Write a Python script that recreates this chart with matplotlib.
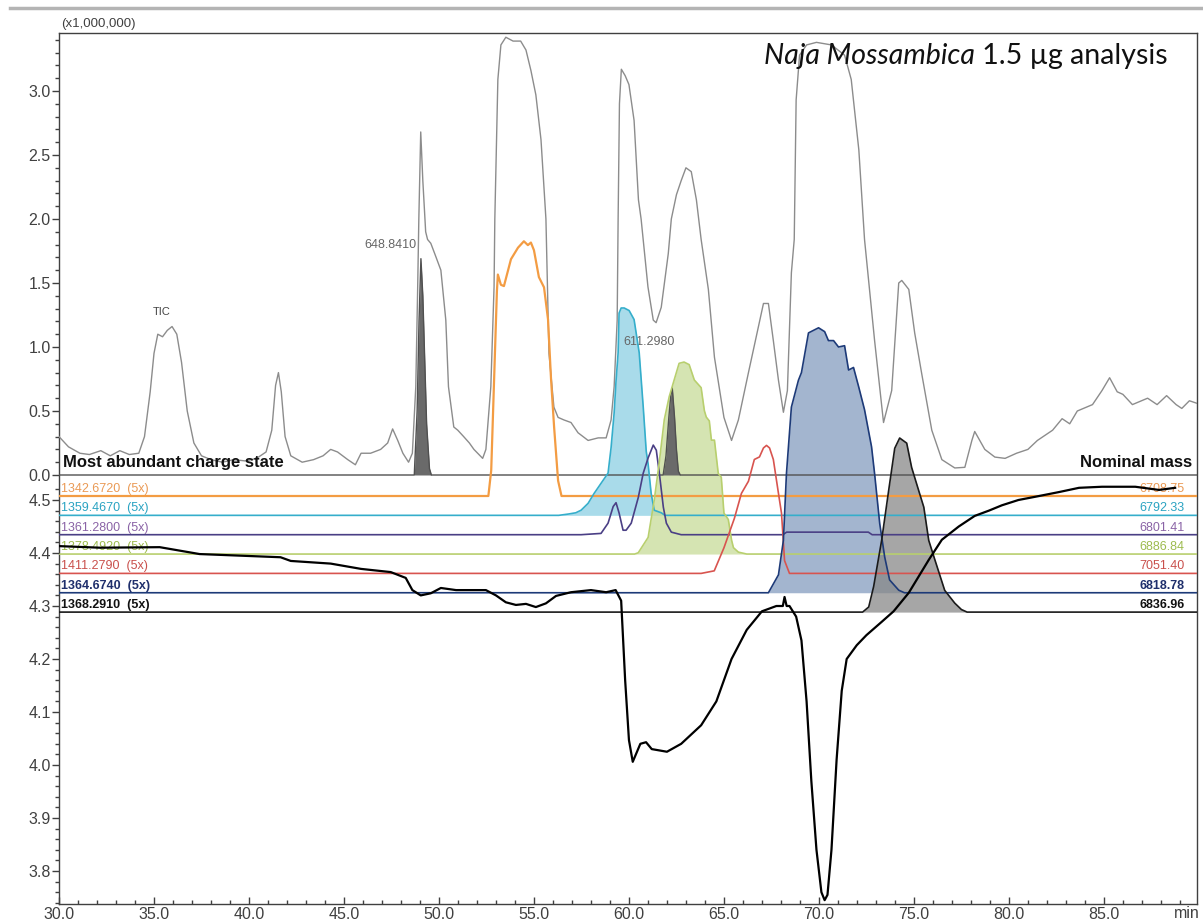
import numpy as np
import matplotlib
matplotlib.use('Agg')
import matplotlib.pyplot as plt
from matplotlib.lines import Line2D

plt.rcParams['font.family'] = ['Liberation Sans', 'DejaVu Sans']

# ---------------- data ----------------
tic_t = [30.0, 30.5, 31.1, 31.6, 32.2, 32.7, 33.2, 33.7, 34.2, 34.5, 34.8, 35.0, 35.2, 35.45, 35.7,
         35.95, 36.2, 36.45, 36.75, 37.1, 37.5, 38.0, 38.6, 39.2, 39.8, 40.4, 40.9, 41.2, 41.4,
         41.55, 41.7, 41.9, 42.2, 42.8, 43.4, 43.9, 44.3, 44.66, 45.2, 45.6, 45.9, 46.4, 46.93,
         47.3, 47.56, 47.83, 48.1, 48.4, 48.6, 48.78, 48.88, 48.94, 49.04, 49.15, 49.3, 49.4,
         49.57, 49.8, 50.1, 50.36, 50.5, 50.78, 50.99, 51.3, 51.6, 51.84, 52.3, 52.47, 52.73,
         52.9, 52.94, 53.1, 53.26, 53.52, 53.9, 54.3, 54.58, 54.84, 55.1, 55.37, 55.63, 55.79,
         56.05, 56.27, 56.58, 56.95, 57.32, 57.85, 58.38, 58.8, 59.06, 59.22, 59.38, 59.43,
         59.5, 59.6, 59.8, 60.0, 60.27, 60.5, 60.64, 61.0, 61.28, 61.43, 61.7, 62.07, 62.23,
         62.5, 62.75, 63.0, 63.28, 63.55, 63.8, 64.18, 64.5, 65.0, 65.4, 65.76, 66.29, 66.8,
         67.08, 67.34, 67.6, 67.87, 68.13, 68.34, 68.55, 68.7, 68.8, 68.98, 69.35, 69.87, 70.66,
         71.35, 71.7, 72.1, 72.4, 72.93, 73.4, 73.83, 74.2, 74.36, 74.73, 75.04, 75.4, 75.94,
         76.47, 77.15, 77.68, 78.05, 78.2, 78.73, 79.26, 79.8, 80.4, 81.0, 81.5, 82.3, 82.8,
         83.2, 83.6, 84.4, 84.9, 85.3, 85.7, 86.0, 86.5, 87.3, 87.8, 88.3, 88.8, 89.1, 89.5, 89.9]
tic_v = [0.30, 0.22, 0.17, 0.16, 0.19, 0.15, 0.19, 0.16, 0.17, 0.30, 0.65, 0.95, 1.10, 1.08, 1.13,
         1.16, 1.10, 0.88, 0.50, 0.25, 0.15, 0.12, 0.10, 0.12, 0.11, 0.13, 0.18, 0.35, 0.70,
         0.80, 0.65, 0.30, 0.15, 0.10, 0.12, 0.15, 0.20, 0.18, 0.12, 0.08, 0.17, 0.17, 0.20,
         0.25, 0.36, 0.27, 0.17, 0.10, 0.17, 0.69, 1.47, 2.00, 2.68, 2.30, 1.90, 1.84,
         1.81, 1.72, 1.60, 1.21, 0.69, 0.375, 0.35, 0.30, 0.25, 0.20, 0.13, 0.20, 0.69,
         1.47, 2.00, 3.09, 3.36, 3.42, 3.39, 3.39, 3.32, 3.16, 2.97, 2.62, 2.00, 0.95,
         0.53, 0.45, 0.43, 0.41, 0.33, 0.27, 0.29, 0.29, 0.43, 0.69, 1.21, 2.00,
         2.90, 3.17, 3.12, 3.05, 2.77, 2.15, 2.00, 1.47, 1.21, 1.19, 1.31, 1.73, 2.00,
         2.19, 2.30, 2.40, 2.37, 2.15, 1.84, 1.45, 0.92, 0.45, 0.27, 0.43, 0.80, 1.15,
         1.34, 1.34, 1.05, 0.74, 0.49, 0.66, 1.58, 1.84, 2.93, 3.28, 3.36, 3.38, 3.36,
         3.28, 3.09, 2.54, 1.84, 1.05, 0.41, 0.66, 1.50, 1.52, 1.45, 1.11, 0.80, 0.35,
         0.12, 0.055, 0.06, 0.27, 0.34, 0.20, 0.14, 0.13, 0.17, 0.20, 0.27, 0.35, 0.44,
         0.40, 0.50, 0.55, 0.66, 0.76, 0.65, 0.63, 0.55, 0.60, 0.55, 0.62, 0.55, 0.52, 0.58, 0.56]

# XIC peaks drawn on the TIC baseline (dark grey)
xic648_t = [48.7, 48.85, 48.95, 49.05, 49.15, 49.25, 49.35, 49.5, 49.6]
xic648_h = [0.0, 0.5, 1.2, 1.69, 1.4, 0.9, 0.4, 0.05, 0.0]
xic611_t = [61.8, 61.95, 62.1, 62.2, 62.28, 62.4, 62.5, 62.6, 62.7]
xic611_h = [0.0, 0.15, 0.45, 0.62, 0.68, 0.45, 0.2, 0.03, 0.0]

# stacked charge-state traces (5x)
charge_states = ['1342.6720', '1359.4670', '1361.2800', '1378.4920', '1411.2790', '1364.6740', '1368.2910']
nominal_mass = ['6708.75', '6792.33', '6801.41', '6886.84', '7051.40', '6818.78', '6836.96']

orange_t = [52.6, 52.75, 52.9, 53.05, 53.1, 53.26, 53.42, 53.79, 54.16, 54.47, 54.68, 54.84, 55.0,
            55.26, 55.53, 55.74, 55.9, 56.06, 56.27, 56.45]
orange_h = [0.0, 0.2, 0.9, 1.6, 1.73, 1.65, 1.64, 1.85, 1.94, 1.99, 1.96, 1.98, 1.92,
            1.71, 1.63, 1.38, 0.91, 0.54, 0.12, 0.0]
cyan_t = [56.3, 56.8, 57.2, 57.48, 57.85, 58.16, 58.53, 58.9, 59.06, 59.22, 59.32, 59.43, 59.48,
          59.59, 59.75, 60.01, 60.27, 60.54, 60.75, 60.91, 61.01, 61.17, 61.33, 61.7, 61.9]
cyan_h = [0.0, 0.01, 0.02, 0.04, 0.094, 0.17, 0.25, 0.33, 0.53, 0.8, 1.05, 1.27, 1.58,
          1.62, 1.62, 1.6, 1.53, 1.27, 0.85, 0.5, 0.4, 0.17, 0.04, 0.02, 0.0]
purple_t = [57.48, 58.53, 58.9, 59.17, 59.32, 59.48, 59.69, 59.85, 60.12, 60.49, 60.75, 61.01,
            61.28, 61.44, 61.6, 61.81, 61.97, 62.23, 62.75, 68.1, 68.3, 72.6, 72.8]
purple_h = [0.0, 0.01, 0.09, 0.22, 0.25, 0.17, 0.035, 0.035, 0.09, 0.29, 0.48, 0.6,
            0.7, 0.66, 0.48, 0.215, 0.09, 0.02, 0.0, 0.0, 0.02, 0.02, 0.0]
green_t = [60.3, 60.49, 61.01, 61.33, 61.59, 61.86, 62.12, 62.38, 62.64, 62.9, 63.17, 63.44, 63.8,
           63.97, 64.07, 64.23, 64.34, 64.5, 64.7, 64.86, 65.0, 65.23, 65.4, 65.5, 65.76, 66.2]
green_h = [0.0, 0.01, 0.13, 0.42, 0.71, 1.05, 1.23, 1.36, 1.49, 1.5, 1.48, 1.36, 1.3,
           1.12, 1.07, 1.04, 0.89, 0.89, 0.63, 0.6, 0.32, 0.27, 0.11, 0.05, 0.015, 0.0]
red_t = [63.8, 64.49, 65.0, 65.55, 65.92, 66.29, 66.6, 66.87, 67.08, 67.24, 67.4, 67.6, 67.87,
         68.03, 68.19, 68.45]
red_h = [0.0, 0.02, 0.2, 0.43, 0.625, 0.72, 0.89, 0.91, 0.98, 1.0, 0.98, 0.89, 0.625,
         0.47, 0.1, 0.0]
navy_t = [67.34, 67.87, 68.13, 68.29, 68.55, 68.92, 69.08, 69.45, 69.98, 70.3, 70.5, 70.77, 71.03,
          71.35, 71.56, 71.82, 72.09, 72.4, 72.77, 72.93, 73.2, 73.46, 73.72, 74.2, 74.5]
navy_h = [0.0, 0.14, 0.41, 0.93, 1.45, 1.66, 1.72, 2.03, 2.07, 2.04, 1.97, 1.97, 1.92,
          1.93, 1.74, 1.76, 1.61, 1.43, 1.14, 0.93, 0.54, 0.28, 0.1, 0.02, 0.0]
grey_t = [72.3, 72.62, 72.88, 73.3, 73.67, 73.99, 74.25, 74.62, 74.88, 75.25, 75.52, 75.78, 76.1,
          76.62, 77.15, 77.5, 77.8]
grey_h = [0.0, 0.04, 0.2, 0.56, 0.95, 1.28, 1.36, 1.32, 1.13, 0.95, 0.82, 0.56, 0.41,
          0.17, 0.07, 0.02, 0.0]

# pressure-like trace on the lower scale
pr_t = [30.0, 32.16, 35.3, 37.4, 41.66, 42.2, 44.3, 45.9, 47.46, 48.25, 48.6, 49.04, 49.57, 50.1,
        50.9, 51.7, 52.47, 53.0, 53.52, 54.05, 54.58, 55.1, 55.63, 56.16, 56.95, 58.0, 58.8,
        59.3, 59.59, 59.8, 60.0, 60.2, 60.6, 60.9, 61.2, 62.0, 62.75, 63.8, 64.6, 65.4, 66.2,
        67.0, 67.76, 68.1, 68.19, 68.3, 68.45, 68.8, 69.08, 69.35, 69.6, 69.87, 70.13, 70.3,
        70.45, 70.66, 70.93, 71.2, 71.46, 71.99, 72.5, 73.3, 73.93, 74.73, 75.78, 76.47, 77.36,
        78.2, 78.95, 79.63, 80.5, 81.37, 82.64, 83.69, 84.9, 86.65, 87.9, 88.75]
pr_v = [4.413, 4.41, 4.411, 4.398, 4.392, 4.385, 4.38, 4.37, 4.364, 4.353, 4.33, 4.32, 4.324, 4.334,
        4.33, 4.33, 4.33, 4.32, 4.307, 4.302, 4.304, 4.298, 4.305, 4.319, 4.326, 4.33, 4.326,
        4.33, 4.31, 4.16, 4.047, 4.006, 4.04, 4.043, 4.03, 4.025, 4.04, 4.075, 4.12, 4.2, 4.255,
        4.29, 4.30, 4.30, 4.317, 4.30, 4.30, 4.28, 4.235, 4.12, 3.97, 3.84, 3.76, 3.745,
        3.755, 3.84, 4.01, 4.14, 4.2, 4.226, 4.245, 4.27, 4.29, 4.325, 4.387, 4.425, 4.45,
        4.47, 4.48, 4.49, 4.5, 4.506, 4.515, 4.523, 4.525, 4.525, 4.519, 4.523]

# ---------------- style ----------------
line_cols = ['#f39c43', '#35aecb', '#4a3f85', '#b8cf6e', '#d8544f', '#1d3a78', '#1a1a1a']
text_cols = ['#ea9a55', '#2aa3c2', '#8a63a6', '#9dbb4e', '#c9504c', '#1f2f6c', '#111111']
fill_cols = [None, '#8cd0e3', None, '#c8db98', None, '#849cc0', '#888888']
bold = [False, False, False, False, False, True, True]
traces = [(orange_t, orange_h), (cyan_t, cyan_h), (purple_t, purple_h), (green_t, green_h),
          (red_t, red_h), (navy_t, navy_h), (grey_t, grey_h)]

W, H = 1203, 921
fig = plt.figure(figsize=(W / 100, H / 100), dpi=100)
L, R, T, B = 59, 1197, 33, 904
ax = fig.add_axes([L / W, 1 - B / H, (R - L) / W, (B - T) / H])
X0, X1 = 30.0, 89.9
ax.set_xlim(X0, X1)
ppu = 128.0       # pixels per TIC unit
y0 = 475.0        # pixel row of TIC zero
ax.set_ylim((y0 - B) / ppu, (y0 - T) / ppu)

def px(dy):
    return dy / ppu

# TIC
ax.plot(tic_t, tic_v, color='#8c8c8c', lw=1.0, zorder=3)

# separator / XIC baseline with dark grey peaks
ax.plot([X0] + xic648_t + xic611_t + [X1], [0] + xic648_h + xic611_h + [0],
        color='#505050', lw=1.0, zorder=3)
ax.fill_between(xic648_t, 0, xic648_h, color='#6a6a6a', lw=0, zorder=2)
ax.fill_between(xic611_t, 0, xic611_h, color='#6a6a6a', lw=0, zorder=2)

offsets = [px(y0 - (496 + 19.35 * i)) for i in range(7)]
for i, (tt, hh) in enumerate(traces):
    off = offsets[i]
    xs = [X0] + list(tt) + [X1]
    ys = [off] + [off + h for h in hh] + [off]
    if fill_cols[i]:
        ax.fill_between(tt, off, [off + h for h in hh], color=fill_cols[i], alpha=0.75,
                        lw=0, zorder=1)
    ax.plot(xs, ys, color=line_cols[i], lw=1.6 if i == 0 else 1.2, zorder=4)
    ax.text(30.12, off + px(4), charge_states[i] + '  (5x)', color=text_cols[i], fontsize=9,
            va='baseline', ha='left', fontweight='bold' if bold[i] else 'normal', zorder=6)
    ax.text(89.25, off + px(4), nominal_mass[i], color=text_cols[i], fontsize=9,
            va='baseline', ha='right', fontweight='bold' if bold[i] else 'normal', zorder=6)

ax.text(30.2, px(8), 'Most abundant charge state', fontsize=12, fontweight='bold',
        va='baseline', ha='left', color='#111111', zorder=6)
ax.text(89.62, px(8), 'Nominal mass', fontsize=12, fontweight='bold',
        va='baseline', ha='right', color='#111111', zorder=6)
ax.text(35.43, 1.27, 'TIC', fontsize=8, color='#444444', ha='center', va='center')
ax.text(47.46, 1.80, '648.8410', fontsize=9, color='#666666', ha='center', va='center')
ax.text(61.07, 1.04, '611.2980', fontsize=9, color='#666666', ha='center', va='center')

# axis styling
for s in ax.spines.values():
    s.set_color('#404040')
    s.set_linewidth(1.0)
ax.set_yticks(np.arange(0, 3.01, 0.5))
ax.set_yticklabels(['%.1f' % v for v in np.arange(0, 3.01, 0.5)])
ax.set_yticks([v for v in np.arange(0.1, 3.45, 0.1) if abs(v / 0.5 - round(v / 0.5)) > 1e-6],
              minor=True)
ax.set_xticks(np.arange(30, 89, 5))
ax.set_xticklabels(['%.1f' % v for v in np.arange(30, 89, 5)])
ax.set_xticks([v for v in range(31, 90) if v % 5], minor=True)
ax.tick_params(axis='y', which='major', direction='out', length=5, width=1, colors='#404040',
               labelsize=11.5, pad=1)
ax.tick_params(axis='y', which='minor', direction='out', length=3, width=1, colors='#404040')
ax.tick_params(axis='x', which='major', direction='in', length=5, width=1, colors='#404040',
               labelsize=11.5, pad=2)
ax.tick_params(axis='x', which='minor', direction='in', length=3, width=1, colors='#404040')

# lower scale axis
ax2 = ax.twinx()
pp01 = 53.0  # pixels per 0.1
ax2.set_ylim(4.4 - (B - 553) / pp01 * 0.1, 4.4 + (553 - T) / pp01 * 0.1)
ax2.plot(pr_t, pr_v, color='#000000', lw=1.6, zorder=5)
ax2.yaxis.set_ticks_position('left')
for s in ax2.spines.values():
    s.set_visible(False)
ax2.set_yticks(np.round(np.arange(3.8, 4.51, 0.1), 1))
ax2.set_yticklabels(['%.1f' % v for v in np.arange(3.8, 4.51, 0.1)])
ax2.set_yticks([v for v in np.arange(3.74, 4.521, 0.02)
                if abs(v * 10 - round(v * 10)) > 1e-6], minor=True)
ax2.tick_params(axis='y', which='major', direction='out', length=5, width=1, colors='#404040',
                labelsize=11.5, pad=1)
ax2.tick_params(axis='y', which='minor', direction='out', length=3, width=1, colors='#404040')
ax2.set_xlim(X0, X1)

# extra texts
fig.text(1187 / W, 1 - 913 / H, 'min', fontsize=11.5, color='#404040', ha='center', va='center')
fig.text(61 / W, 1 - 24 / H, '(x1,000,000)', fontsize=9.5, color='#404040', ha='left', va='center')
fig.add_artist(Line2D([10 / W, 1.0], [1 - 8 / H, 1 - 8 / H], color='#b4b4b4', lw=2.5))

# title with mixed italic
fig.canvas.draw()
rend = fig.canvas.get_renderer()
t2 = fig.text(1168 / W, 1 - 64 / H, ' 1.5 \u00b5g analysis', fontsize=20.5, family='Lato',
              ha='right', va='baseline', color='#111111')
bb = t2.get_window_extent(renderer=rend)
fig.text(bb.x0 / W, 1 - 64 / H, 'Naja Mossambica', fontsize=20.5, family='Lato', style='italic',
         ha='right', va='baseline', color='#111111')

fig.savefig('out.png', dpi=100)
